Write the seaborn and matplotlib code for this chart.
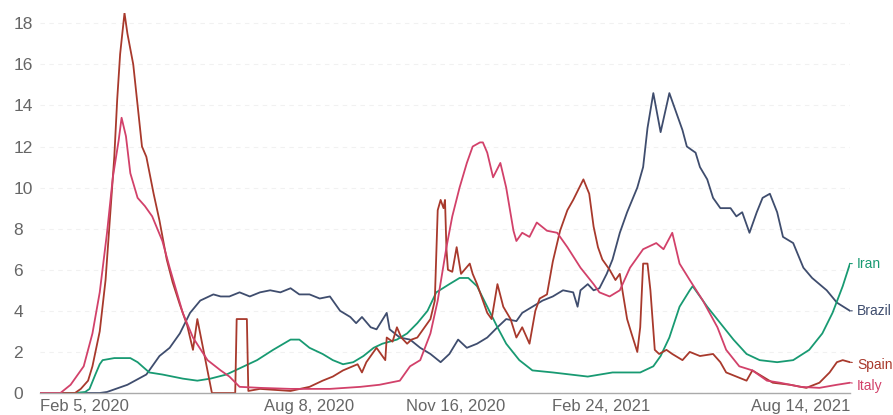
import matplotlib
matplotlib.use("Agg")
import matplotlib.pyplot as plt
import seaborn as sns
import pandas as pd

# Data: days since Feb 5, 2020 and the value
start = pd.Timestamp("2020-02-05")

spain_days = [0, 24, 28, 33, 36, 41, 45, 48, 51, 53, 55, 58, 60, 64, 67, 70, 73, 78, 82,
              87, 91, 96, 101, 105, 108, 118, 134, 135, 142, 143, 151, 172, 185, 194, 201, 208,
              218, 221, 224, 231, 237, 238, 242, 245, 248, 252, 255, 259, 263, 268, 271, 273,
              275, 277, 278, 279, 280, 283, 286, 289, 295, 297, 300, 307, 310, 314, 318, 323,
              327, 331, 336, 340, 343, 348, 352, 357, 362, 366, 373, 377, 380, 383, 386, 391,
              395, 398, 400, 403, 406, 410, 412, 414, 417, 419, 422, 425, 430, 434, 441, 446,
              453, 462, 467, 471, 478, 485, 489, 496, 503, 515, 526, 535, 542, 547, 551, 556]
spain_vals = [0, 0, 0.2, 0.6, 1.3, 3.0, 5.5, 8.5, 11.5, 14.3, 16.5, 18.5, 17.5, 16.0, 14.0,
              12.0, 11.5, 9.7, 8.4, 6.5, 5.4, 4.3, 3.3, 2.1, 3.6, 0, 0, 3.6, 3.6, 0.1, 0.2, 0.1,
              0.3, 0.6, 0.8, 1.1, 1.4, 1.0, 1.5, 2.2, 1.6, 2.7, 2.5, 3.2, 2.7, 2.4, 2.6, 2.7, 3.1,
              3.6, 4.5, 8.9, 9.4, 9.0, 9.4, 7.0, 6.0, 5.9, 7.1, 5.8, 6.3, 5.8, 5.3, 3.9, 3.6, 5.3,
              4.2, 3.6, 2.7, 3.2, 2.4, 4.0, 4.6, 4.8, 6.4, 7.9, 8.9, 9.4, 10.4, 9.7, 8.1, 7.1,
              6.5, 6.0, 5.5, 5.8, 4.9, 3.6, 2.9, 2.0, 3.2, 6.3, 6.3, 5.0, 2.1, 1.9, 2.1, 1.9,
              1.6, 2.0, 1.8, 1.9, 1.5, 1.0, 0.8, 0.6, 1.1, 0.8, 0.5, 0.4, 0.25, 0.5, 1.0, 1.5,
              1.6, 1.5]

italy_days = [0, 14, 21, 30, 36, 41, 46, 50, 54, 56, 59, 62, 67, 72, 77, 84, 89, 98, 105, 115,
              124, 130, 137, 151, 172, 199, 220, 233, 240, 247, 254, 261, 268, 273, 279, 283,
              288, 293, 297, 302, 304, 307, 311, 316, 320, 325, 327, 331, 336, 341, 348, 355,
              362, 371, 380, 384, 391, 398, 405, 414, 423, 428, 434, 439, 446, 455, 465, 471,
              480, 489, 499, 508, 522, 535, 547, 556]
italy_vals = [0, 0, 0.4, 1.3, 2.9, 4.9, 7.8, 10.5, 12.3, 13.4, 12.5, 10.7, 9.5, 9.1, 8.6, 7.4,
              6.1, 3.9, 2.7, 1.6, 1.1, 0.8, 0.3, 0.25, 0.2, 0.2, 0.3, 0.4, 0.5, 0.6, 1.3, 1.6,
              2.9, 4.5, 7.1, 8.6, 10.0, 11.2, 12.0, 12.2, 12.2, 11.7, 10.5, 11.2, 10.0, 7.9, 7.4,
              7.8, 7.6, 8.3, 7.9, 7.8, 7.1, 6.1, 5.3, 4.9, 4.7, 5.0, 6.1, 7.0, 7.3, 7.0, 7.8,
              6.3, 5.5, 4.5, 3.2, 2.1, 1.3, 1.1, 0.6, 0.5, 0.3, 0.25, 0.4, 0.5]

brazil_days = [0, 41, 46, 60, 73, 82, 89, 96, 103, 110, 119, 124, 130, 137, 144, 151, 158, 165,
               172, 178, 185, 192, 199, 206, 213, 217, 221, 227, 231, 238, 240, 247, 254, 261,
               268, 275, 281, 287, 293, 300, 307, 314, 320, 327, 331, 338, 345, 352, 359, 366,
               369, 371, 376, 380, 384, 389, 393, 398, 403, 410, 414, 417, 421, 426, 432, 437,
               441, 444, 450, 453, 458, 462, 467, 474, 478, 482, 487, 492, 496, 501, 506, 510,
               517, 524, 530, 540, 547, 556]
brazil_vals = [0, 0, 0.05, 0.4, 0.9, 1.8, 2.2, 2.9, 3.9, 4.5, 4.8, 4.7, 4.7, 4.9, 4.7, 4.9, 5.0,
               4.9, 5.1, 4.8, 4.8, 4.6, 4.7, 4.0, 3.7, 3.4, 3.7, 3.2, 3.1, 3.9, 3.1, 2.7, 2.6,
               2.2, 1.9, 1.5, 1.9, 2.6, 2.2, 2.4, 2.7, 3.2, 3.6, 3.5, 3.9, 4.2, 4.5, 4.7, 5.0,
               4.9, 4.2, 5.0, 5.3, 5.0, 5.1, 5.8, 6.5, 7.8, 8.8, 10.0, 11.0, 12.9, 14.6, 12.7,
               14.6, 13.6, 12.8, 12.0, 11.7, 11.0, 10.4, 9.5, 9.0, 9.0, 8.6, 8.8, 7.8, 8.8, 9.5,
               9.7, 8.8, 7.6, 7.3, 6.1, 5.6, 5.0, 4.4, 4.0]

iran_days = [0, 24, 31, 34, 38, 41, 43, 51, 62, 67, 75, 84, 98, 108, 117, 128, 137, 149, 160,
             172, 178, 185, 194, 201, 208, 215, 222, 229, 235, 245, 252, 259, 266, 272, 281, 288,
             294, 300, 307, 314, 320, 329, 338, 352, 364, 376, 393, 412, 421, 426, 432, 439, 446,
             448, 458, 467, 476, 485, 494, 506, 517, 528, 537, 544, 551, 556]
iran_vals = [0, 0, 0.05, 0.2, 0.9, 1.4, 1.6, 1.7, 1.7, 1.5, 1.0, 0.9, 0.7, 0.6, 0.7, 0.9, 1.2,
             1.6, 2.1, 2.6, 2.6, 2.2, 1.9, 1.6, 1.4, 1.5, 1.8, 2.2, 2.4, 2.6, 2.9, 3.4, 4.0, 4.9,
             5.3, 5.6, 5.6, 5.2, 4.2, 3.2, 2.4, 1.6, 1.1, 1.0, 0.9, 0.8, 1.0, 1.0, 1.3, 1.8, 2.7,
             4.2, 5.0, 5.2, 4.2, 3.4, 2.6, 1.9, 1.6, 1.5, 1.6, 2.1, 2.9, 3.9, 5.2, 6.3]

tick_dates = ["2020-02-05", "2020-08-08", "2020-11-16", "2021-02-24", "2021-08-14"]
tick_labels = ["Feb 5, 2020", "Aug 8, 2020", "Nov 16, 2020", "Feb 24, 2021", "Aug 14, 2021"]

colors = {"Brazil": "#3f4d6e", "Iran": "#189a72", "Spain": "#a8392c", "Italy": "#d2416a"}
label_dy = {"Brazil": 0, "Iran": 0, "Spain": -2, "Italy": -2}

series = [("Brazil", brazil_days, brazil_vals), ("Iran", iran_days, iran_vals),
          ("Spain", spain_days, spain_vals), ("Italy", italy_days, italy_vals)]

frames = []
for name, days, vals in series:
    frames.append(pd.DataFrame({
        "date": start + pd.to_timedelta(days, unit="D"),
        "value": vals,
        "country": name,
    }))
df = pd.concat(frames, ignore_index=True)

sns.set_theme(style="white")
plt.rcParams["font.family"] = ["Liberation Sans", "DejaVu Sans"]

fig = plt.figure(figsize=(8.93, 4.15), dpi=100)
ax = fig.add_axes([40 / 893, 22 / 415, 810 / 893, 380 / 415])

sns.lineplot(data=df, x="date", y="value", hue="country", palette=colors,
             estimator=None, linewidth=1.3, legend=False, ax=ax)

ax.set_xlim(start, pd.Timestamp("2021-08-14"))
ax.set_ylim(0, 18.5)
ax.set_xlabel("")
ax.set_ylabel("")

# y axis: left aligned labels, faint dashed grid
ax.set_yticks(range(0, 19, 2))
ax.tick_params(axis="y", length=0, pad=19, labelsize=12.5, labelcolor="#666666")
for lbl in ax.get_yticklabels():
    lbl.set_horizontalalignment("left")
ax.yaxis.grid(True, color="#f1f1f1", linestyle=(0, (4, 4)), linewidth=0.8)
ax.xaxis.grid(False)

# x axis
ax.set_xticks(pd.to_datetime(tick_dates))
ax.set_xticklabels(tick_labels)
ax.tick_params(axis="x", length=3, color="#aaaaaa", pad=1.5, labelsize=12, labelcolor="#666666")
xl = ax.get_xticklabels()
xl[0].set_horizontalalignment("left")
xl[-1].set_horizontalalignment("right")

for side in ["top", "right", "left"]:
    ax.spines[side].set_visible(False)
ax.spines["bottom"].set_color("#aaaaaa")
ax.spines["bottom"].set_linewidth(1)

# end-of-line labels
for name, days, vals in series:
    end = start + pd.Timedelta(days=days[-1])
    ax.annotate(name, xy=(end, vals[-1]), xytext=(5, label_dy[name]),
                textcoords="offset points", va="center", ha="left",
                fontsize=10, color=colors[name], annotation_clip=False,
                arrowprops=dict(arrowstyle="-", color=colors[name], lw=0.8,
                                shrinkA=1, shrinkB=0))

fig.savefig("out.png", dpi=100)
